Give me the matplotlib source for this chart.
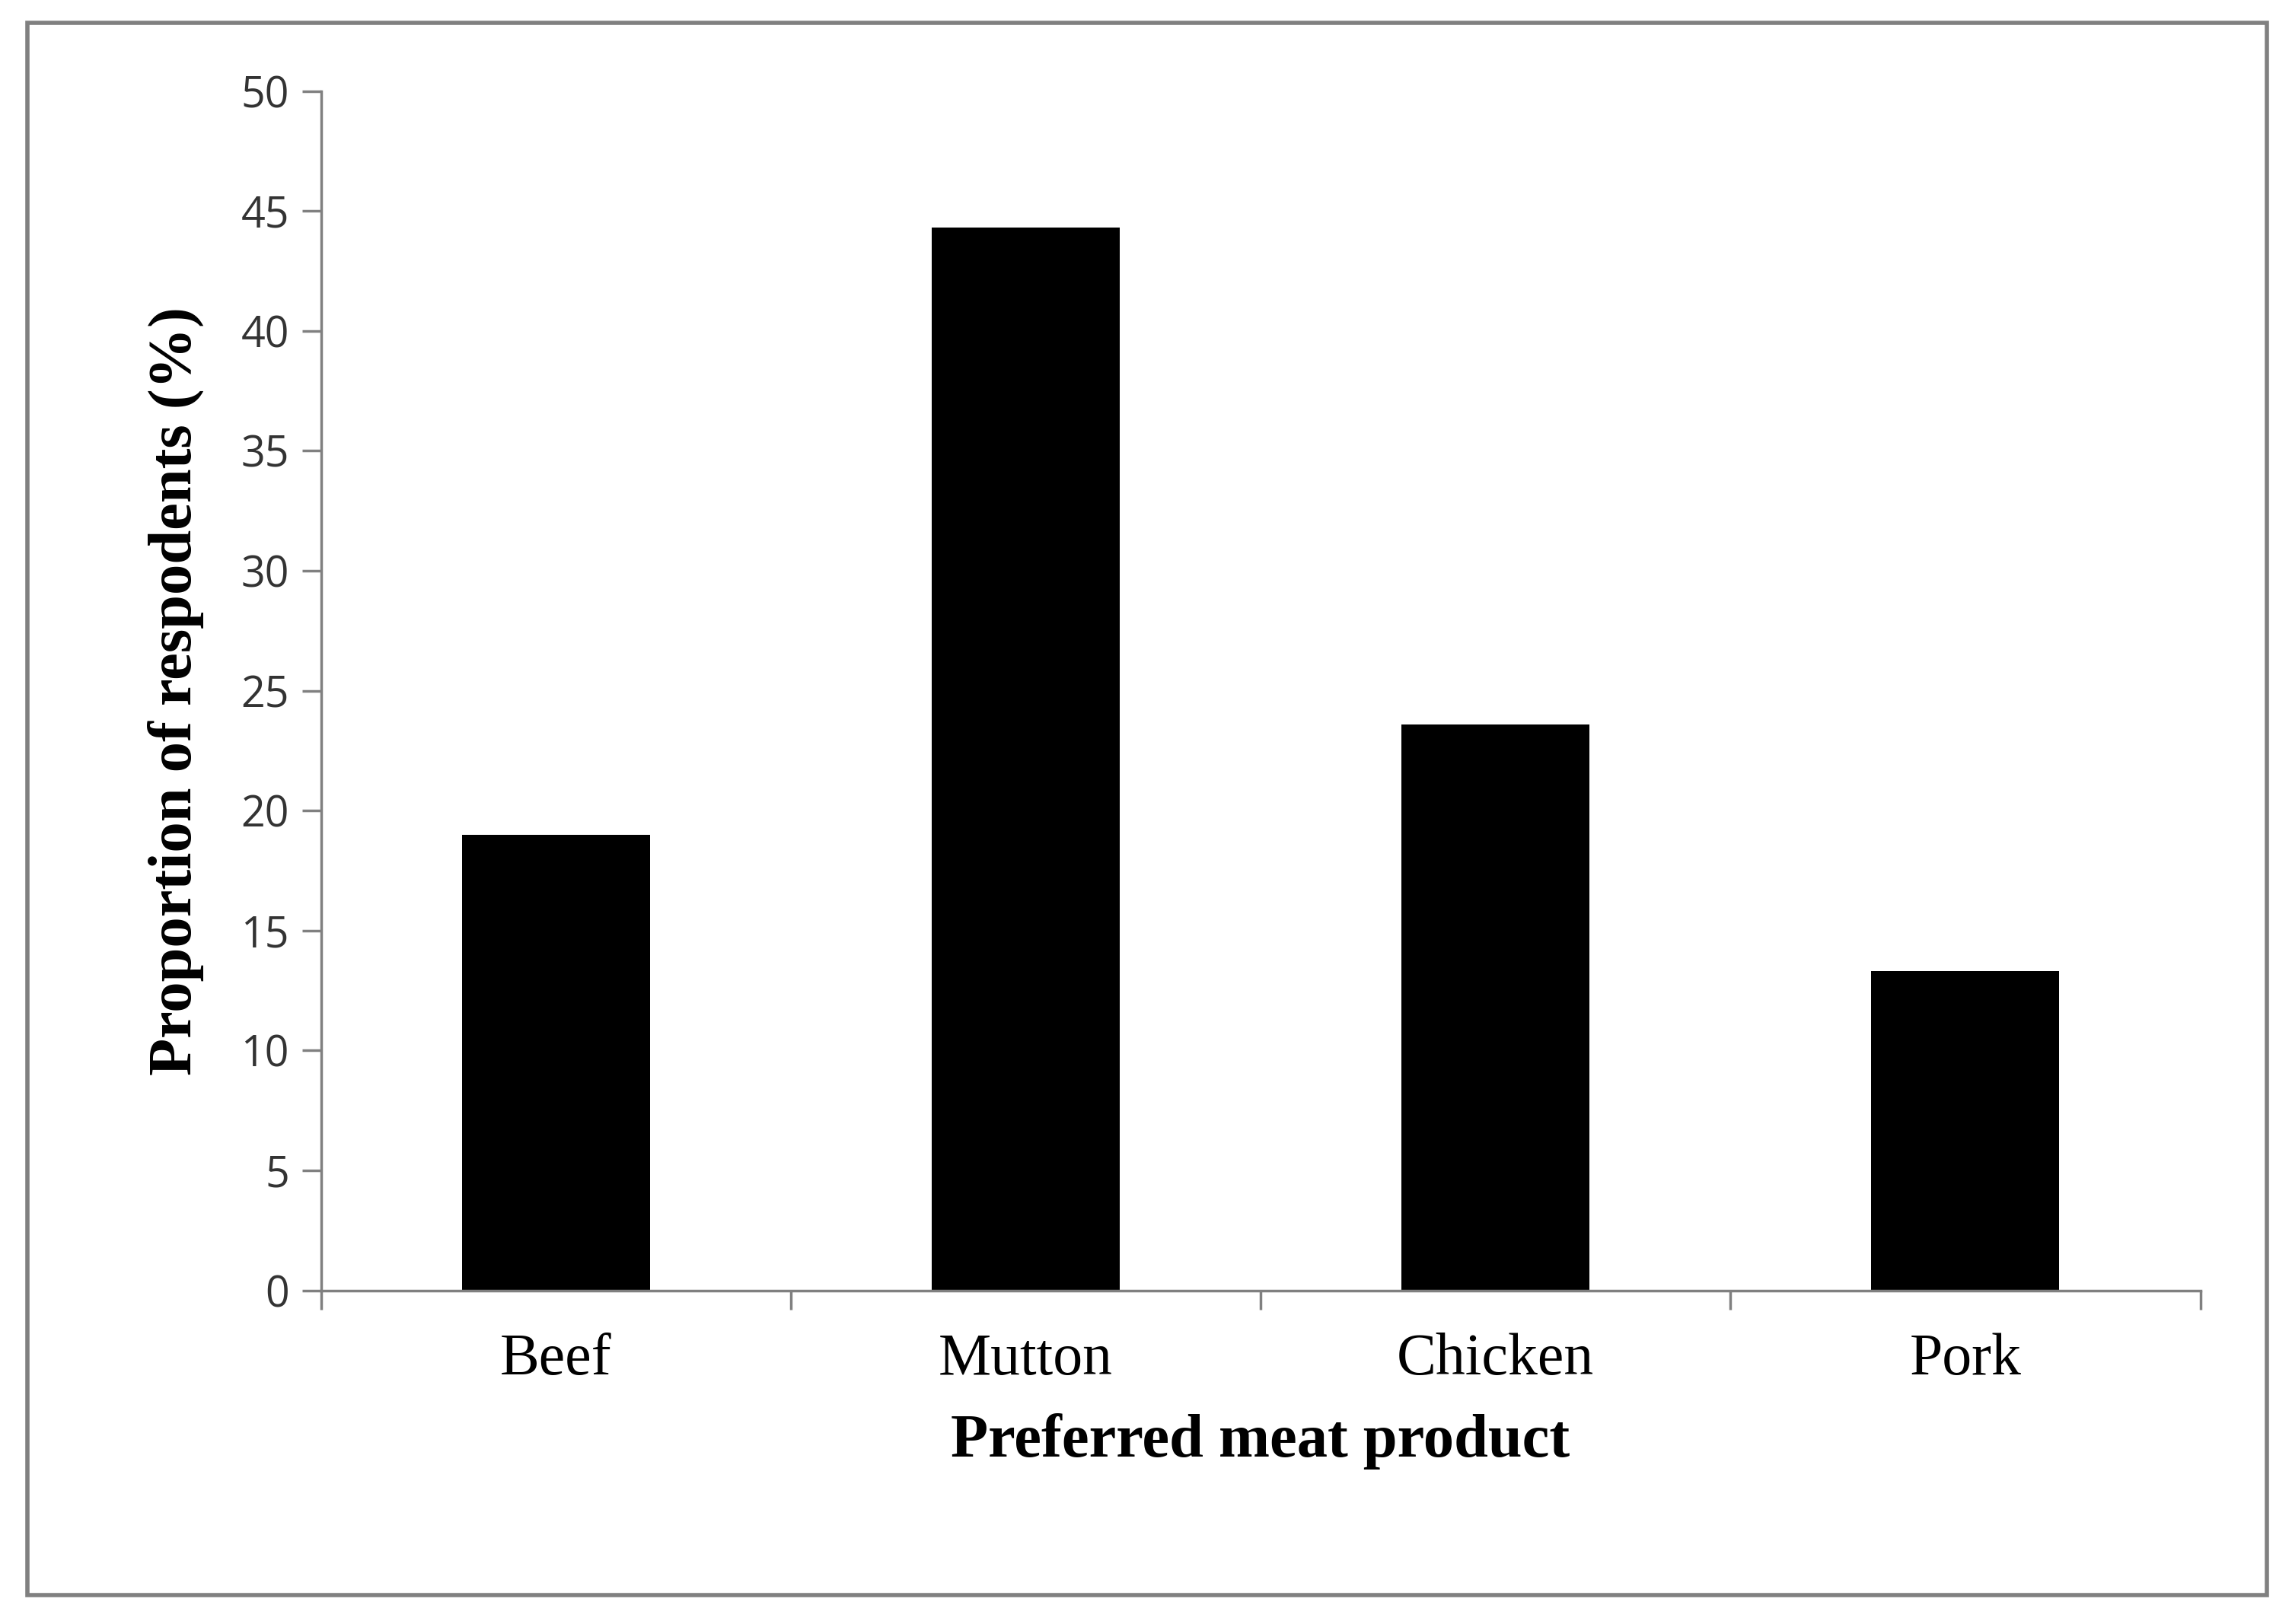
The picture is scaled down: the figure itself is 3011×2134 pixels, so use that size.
import matplotlib
matplotlib.use("Agg")
import matplotlib.pyplot as plt
from matplotlib.patches import Rectangle

categories = ["Beef", "Mutton", "Chicken", "Pork"]
values = [19.0, 44.3, 23.6, 13.3]
yticks = [0, 5, 10, 15, 20, 25, 30, 35, 40, 45, 50]

fig = plt.figure(figsize=(30.11, 21.34), dpi=100)
fig.patches.append(Rectangle((0.012, 0.018), 0.977, 0.968, transform=fig.transFigure,
                             fill=False, edgecolor="#808080", linewidth=4))
ax = fig.add_axes([0.140, 0.2054, 0.820, 0.7386])
x = list(range(len(categories)))
ax.bar(x, values, width=0.4, color="black")
ax.set_xlim(-0.5, len(categories) - 0.5)
ax.set_ylim(0, 50)
ax.set_yticks(yticks)
ax.set_yticklabels([str(t) for t in yticks], fontsize=40, family="Open Sans", color="#333333")
ax.set_xticks(x)
ax.set_xticklabels(categories, fontsize=56, family="Liberation Serif")
ax.set_xticks([-0.5, 0.5, 1.5, 2.5, 3.5], minor=True)
ax.tick_params(axis="x", which="major", length=0, pad=40)
ax.tick_params(axis="x", which="minor", length=18, width=2.5, color="#808080", direction="out")
ax.tick_params(axis="y", length=18, width=2.5, color="#808080", pad=12)
for s in ["top", "right"]:
    ax.spines[s].set_visible(False)
for s in ["left", "bottom"]:
    ax.spines[s].set_color("#808080")
    ax.spines[s].set_linewidth(2.5)
ax.set_ylabel("Proportion of respodents (%)", fontsize=58, family="Liberation Serif",
              fontweight="bold", labelpad=35)
ax.set_xlabel("Preferred meat product", fontsize=58, family="Liberation Serif",
              fontweight="bold", labelpad=25)
fig.savefig("out.png", dpi=100)
